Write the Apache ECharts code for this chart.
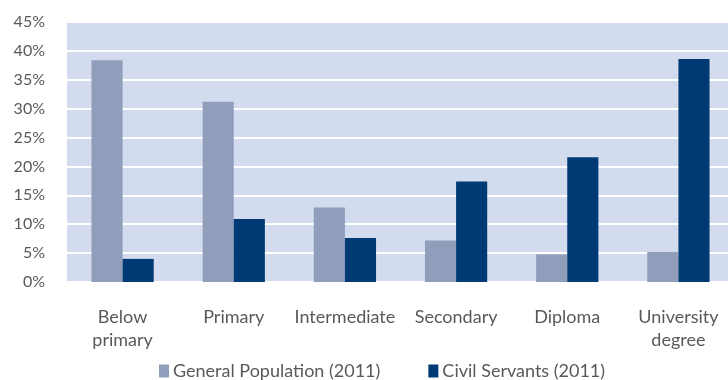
<!DOCTYPE html>
<html>
<head>
<meta charset="utf-8">
<script src="https://cdn.jsdelivr.net/npm/echarts@6/dist/echarts.min.js"></script>
<style>
  html, body { margin: 0; padding: 0; background: #fff; }
  #chart { width: 728px; height: 380px; }
</style>
</head>
<body>
<div id="chart"></div>
<script>
var categories = ['Below\nprimary', 'Primary', 'Intermediate', 'Secondary', 'Diploma', 'University\ndegree'];
var generalPopulation = [38.4, 31.2, 12.9, 7.2, 4.8, 5.2];
var civilServants = [4.0, 10.9, 7.6, 17.4, 21.6, 38.6];
var seriesNames = ['General Population (2011)', 'Civil Servants (2011)'];

var textColor = '#595959';
var fontName = 'Lato';

var option = {
    animation: false,
    textStyle: { fontFamily: fontName },
    grid: {
        left: 67,
        top: 22,
        width: 667,
        height: 260,
        outerBoundsMode: 'none',
        show: true,
        backgroundColor: '#D3DCEE',
        borderWidth: 0
    },
    legend: {
        left: 154,
        top: 357,
        itemWidth: 10,
        itemHeight: 13,
        itemGap: 48,
        icon: 'rect',
        textStyle: { color: textColor, fontSize: 18, fontFamily: fontName, padding: [0, 0, 0, -1] },
        data: seriesNames
    },
    xAxis: {
        type: 'category',
        data: categories,
        axisLine: { show: false },
        axisTick: { show: false },
        axisLabel: {
            color: textColor,
            fontSize: 18,
            lineHeight: 23,
            margin: 24,
            interval: 0
        }
    },
    yAxis: {
        type: 'value',
        min: 0,
        max: 45,
        interval: 5,
        axisLine: { show: false },
        axisTick: { show: false },
        axisLabel: {
            color: textColor,
            fontSize: 16,
            margin: 22,
            formatter: '{value}%'
        },
        splitLine: { lineStyle: { color: '#FFFFFF', width: 2 } }
    },
    series: [
        {
            name: seriesNames[0],
            type: 'bar',
            barGap: '0%',
            barCategoryGap: '44%',
            itemStyle: { color: '#909EBC' },
            data: generalPopulation
        },
        {
            name: seriesNames[1],
            type: 'bar',
            barGap: '0%',
            barCategoryGap: '44%',
            itemStyle: { color: '#003A74' },
            data: civilServants
        }
    ]
};
var chart = echarts.init(document.getElementById('chart'));
chart.setOption(option);
</script>
</body>
</html>
